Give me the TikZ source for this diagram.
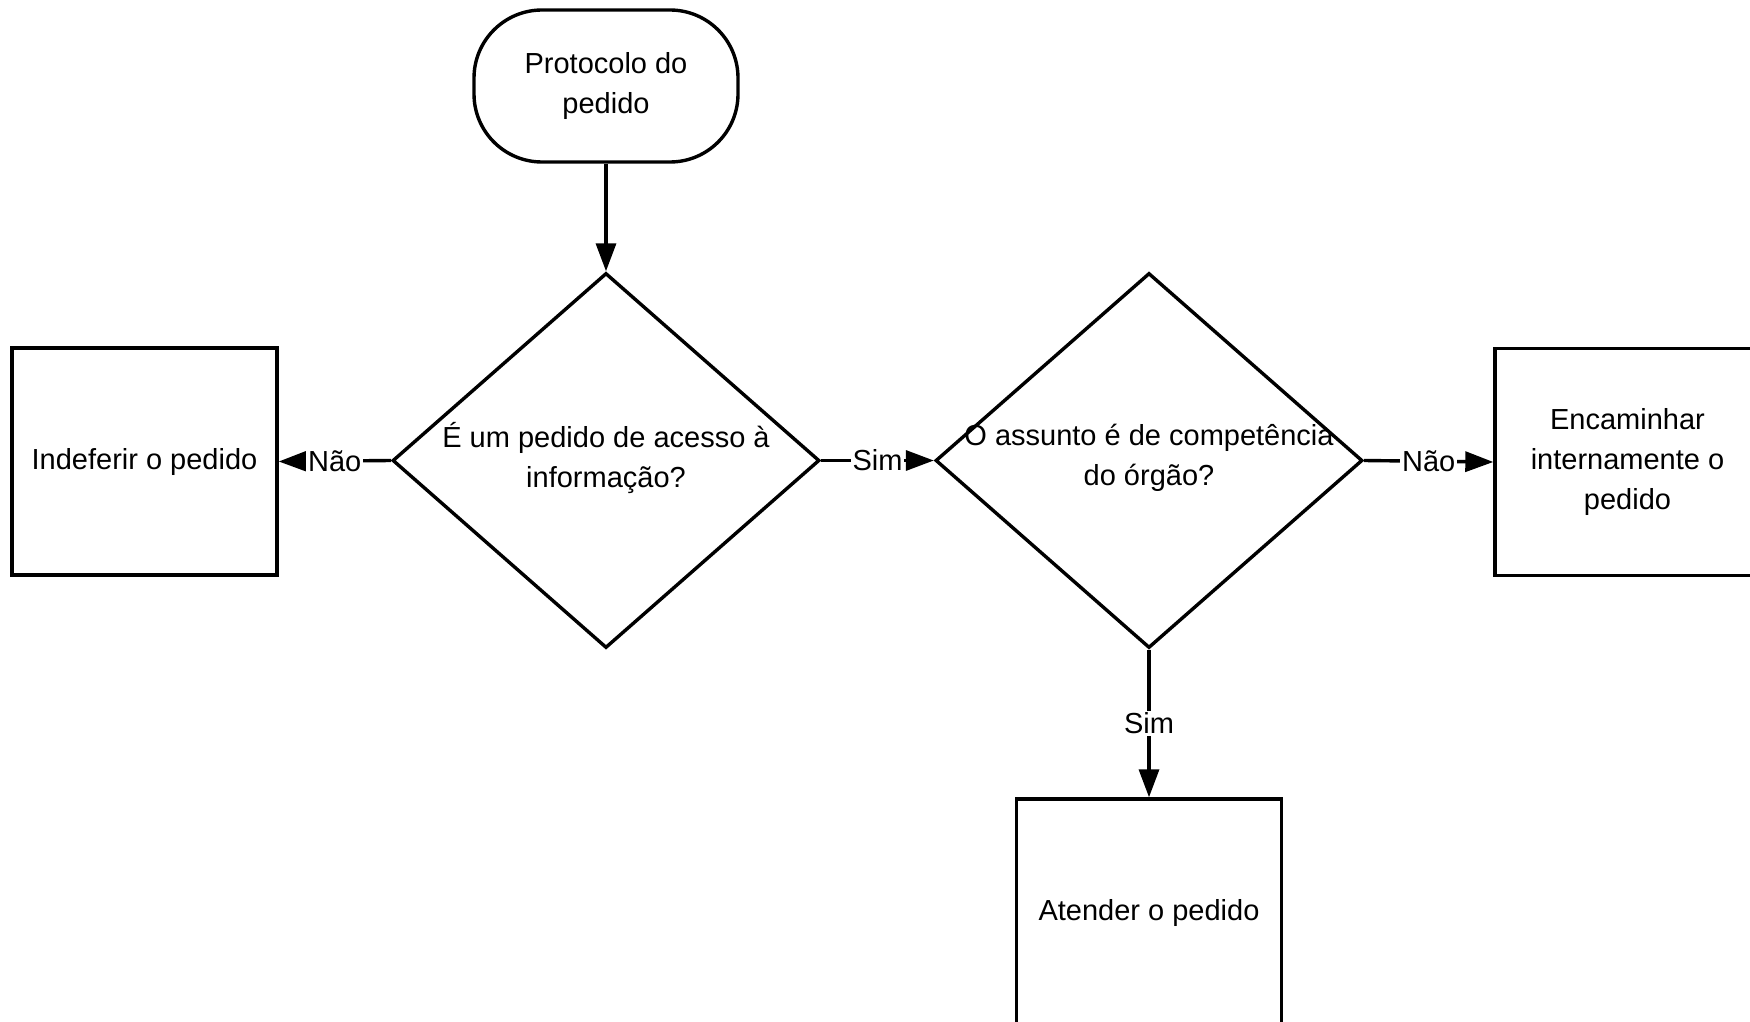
\documentclass[tikz,border=0pt]{standalone}
\usepackage{fontspec}
\setmainfont{Liberation Sans}
\usetikzlibrary{shapes.geometric, arrows.meta}
\begin{document}
\begin{tikzpicture}[x=0.5pt, y=-0.5pt,
  every node/.style={font=\fontsize{14.5}{20}\selectfont},
  box/.style={draw, line width=1.7pt, minimum width=132.5pt, minimum height=113.5pt, inner sep=0pt, align=center},
  term/.style={draw, line width=1.7pt, rounded corners=34pt, minimum width=132pt, minimum height=76pt, inner sep=0pt, align=center},
  dec/.style={draw, diamond, line width=1.7pt, minimum width=213.5pt, minimum height=187.5pt, inner sep=0pt},
  conn/.style={line width=1.7pt, -{Triangle[length=14pt,width=10pt]}},
  lab/.style={fill=white, inner sep=1pt}
]
\clip (0,0) rectangle (1750,1022);
\fill[white] (0,0) rectangle (1750,1022);

\node[term] (start) at (606,86) {Protocolo do\\pedido};
\node[dec, label={[align=center, yshift=1.5pt]center:{É um pedido de acesso à\\informação?}}] (d1) at (606,460.5) {};
\node[dec, label={[align=center, yshift=1.5pt]center:{O assunto é de competência\\do órgão?}}] (d2) at (1149,460.5) {};
\node[box] (ind) at (144.5,461.5) {Indeferir o pedido};
\node[box] (enc) at (1627.5,462) {Encaminhar\\internamente o\\pedido};
\node[box] (ate) at (1149,912.5) {Atender o pedido};

\draw[conn] (start) -- (d1);
\draw[conn] (d1.west) -- node[lab] {Não} (ind.east);
\draw[conn] (d1.east) -- node[lab] {Sim} (d2.west);
\draw[conn] (d2.east) -- node[lab] {Não} (enc.west);
\draw[conn] (d2.south) -- node[lab] {Sim} (ate.north);
\end{tikzpicture}
\end{document}
